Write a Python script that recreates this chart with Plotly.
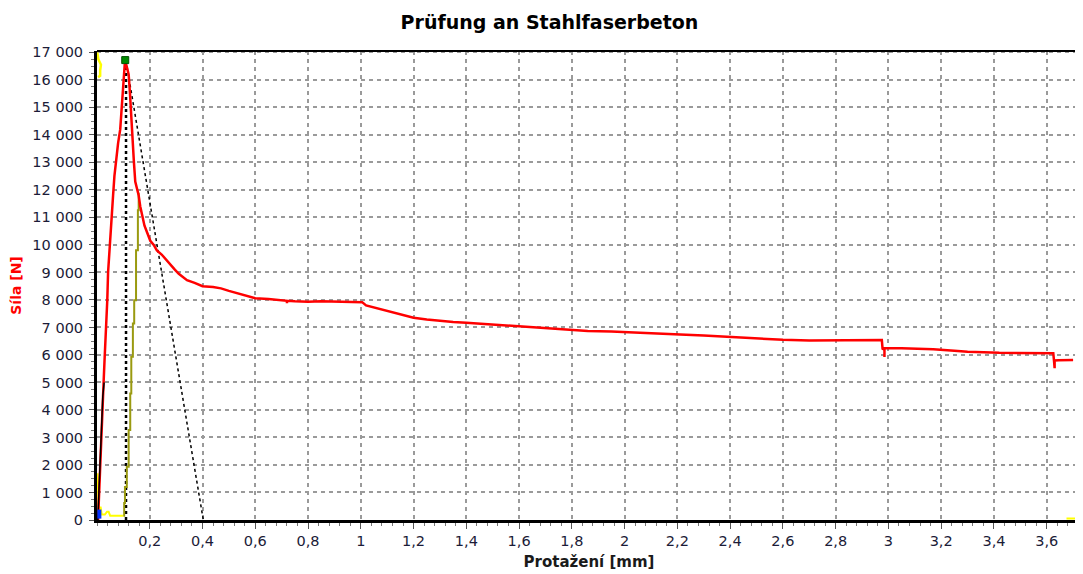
import plotly.graph_objects as go

# ---------------- data ----------------
# main force-elongation curve (red)
red_x = [0.004, 0.008, 0.012, 0.016, 0.021, 0.025, 0.029, 0.035, 0.039, 0.042, 0.048,
         0.054, 0.061, 0.066, 0.073, 0.080, 0.088, 0.094, 0.101, 0.105, 0.111, 0.116,
         0.120, 0.125, 0.130, 0.135, 0.140, 0.145, 0.152, 0.158, 0.164, 0.172, 0.180,
         0.190, 0.202, 0.215, 0.227, 0.245, 0.262, 0.278, 0.295, 0.310, 0.325, 0.341,
         0.370, 0.400, 0.440, 0.470, 0.500, 0.530, 0.560, 0.600, 0.650, 0.700, 0.720,
         0.720, 0.720, 0.750, 0.800, 0.850, 0.900, 0.950, 1.005, 1.020, 1.060, 1.120,
         1.160, 1.200, 1.250, 1.300, 1.350, 1.400, 1.450, 1.500, 1.550, 1.600, 1.650,
         1.700, 1.750, 1.800, 1.860, 1.950, 2.050, 2.160, 2.210, 2.300, 2.400, 2.500,
         2.600, 2.700, 2.800, 2.900, 2.975, 2.978, 2.985, 2.985, 2.985, 3.050, 3.170,
         3.250, 3.300, 3.420, 3.500, 3.625, 3.628, 3.630, 3.630, 3.645, 3.700]
red_y = [0, 1000, 2000, 3400, 4500, 5000, 5900, 7000, 8000, 9000, 10000,
         11000, 11800, 12500, 13200, 13700, 14200, 15000, 16000, 16550, 16550, 16300,
         16200, 15500, 14500, 14000, 13000, 12300, 12000, 11800, 11400, 11000, 10700,
         10450, 10150, 10000, 9800, 9650, 9450, 9300, 9100, 8950, 8850, 8720,
         8620, 8500, 8470, 8420, 8330, 8250, 8150, 8060, 8030, 7990, 7970,
         7880, 7970, 7950, 7930, 7950, 7940, 7930, 7920, 7800, 7700, 7530,
         7430, 7350, 7290, 7240, 7200, 7170, 7140, 7100, 7080, 7050, 7010,
         6970, 6940, 6920, 6870, 6850, 6820, 6780, 6745, 6710, 6660, 6600,
         6550, 6530, 6540, 6540, 6540, 6200, 6250, 5930, 6250, 6240, 6210,
         6150, 6120, 6080, 6070, 6060, 5760, 5520, 5800, 5810, 5820]

# black initial loading line
black_x = [0.003, 0.010, 0.016, 0.022, 0.027]
black_y = [0, 1900, 3400, 4500, 5000]

# yellow trace near the origin
yellow_low_x = [0.002, 0.003, 0.006, 0.010, 0.014, 0.018, 0.024, 0.030, 0.038, 0.044,
                0.050, 0.070, 0.090, 0.100]
yellow_low_y = [1700, 900, 500, 450, 450, 200, 200, 200, 300, 300, 150, 150, 150, 150]

# yellow trace near the top-left corner
yellow_top_x = [0.001, 0.005, 0.015, 0.012, 0.012, 0.004]
yellow_top_y = [17000, 16750, 16550, 16350, 16150, 16100]

# yellow trace at the end of the test
yellow_end_x = [3.675, 3.720, 3.720, 3.730]
yellow_end_y = [50, 50, 200, 200]

# olive unloading/reloading line
olive_x = [0.100, 0.103, 0.106, 0.113, 0.120, 0.126, 0.130, 0.136, 0.141, 0.148, 0.155, 0.158]
olive_y = [150, 617, 1200, 1936, 3269, 4602, 5932, 7145, 7993, 9807, 11260, 11900]

# blue start marker
blue_x = [0.009, 0.009]
blue_y = [50, 380]

# peak marker (green)
peak_x = [0.107]
peak_y = [16720]

# dotted construction lines
vert_x = [0.110, 0.110]
vert_y = [0, 16700]
diag_x = [0.110, 0.403]
diag_y = [16700, 0]

# axis ticks
x_tick_vals = [0.2, 0.4, 0.6, 0.8, 1.0, 1.2, 1.4, 1.6, 1.8, 2.0, 2.2, 2.4, 2.6, 2.8,
               3.0, 3.2, 3.4, 3.6]
x_tick_text = ["0,2", "0,4", "0,6", "0,8", "1", "1,2", "1,4", "1,6", "1,8", "2", "2,2",
               "2,4", "2,6", "2,8", "3", "3,2", "3,4", "3,6"]
y_tick_vals = [0, 1000, 2000, 3000, 4000, 5000, 6000, 7000, 8000, 9000, 10000, 11000,
               12000, 13000, 14000, 15000, 16000, 17000]
y_tick_text = ["0", "1 000", "2 000", "3 000", "4 000", "5 000", "6 000", "7 000",
               "8 000", "9 000", "10 000", "11 000", "12 000", "13 000", "14 000",
               "15 000", "16 000", "17 000"]

FONT = "DejaVu Sans"
TICK_COLOR = "#1c1c38"

fig = go.Figure()

fig.add_trace(go.Scatter(x=vert_x, y=vert_y, mode="lines",
                         line=dict(color="black", width=2.5, dash="3px,3px")))
fig.add_trace(go.Scatter(x=diag_x, y=diag_y, mode="lines",
                         line=dict(color="black", width=1.5, dash="3px,3px")))
fig.add_trace(go.Scatter(x=yellow_low_x, y=yellow_low_y, mode="lines",
                         line=dict(color="#ffff00", width=2)))
fig.add_trace(go.Scatter(x=yellow_top_x, y=yellow_top_y, mode="lines",
                         line=dict(color="#ffff00", width=2.5)))
fig.add_trace(go.Scatter(x=yellow_end_x, y=yellow_end_y, mode="lines",
                         line=dict(color="#ffff00", width=2)))
fig.add_trace(go.Scatter(x=olive_x, y=olive_y, mode="lines", line_shape="hv",
                         line=dict(color="#9a9a10", width=2)))
fig.add_trace(go.Scatter(x=red_x, y=red_y, mode="lines",
                         line=dict(color="#ff0000", width=2.5)))
fig.add_trace(go.Scatter(x=black_x, y=black_y, mode="lines",
                         line=dict(color="black", width=1.5)))
fig.add_trace(go.Scatter(x=blue_x, y=blue_y, mode="lines",
                         line=dict(color="#0030ff", width=4)))
fig.add_trace(go.Scatter(x=peak_x, y=peak_y, mode="markers",
                         marker=dict(symbol="square", size=7, color="#008a00",
                                     line=dict(color="#005500", width=1))))

# the page body adds an 8 px offset, so the figure is sized to fit the window
fig.update_layout(
    width=1075, height=566,
    margin=dict(l=89, r=2, t=43, b=54),
    paper_bgcolor="white", plot_bgcolor="white",
    showlegend=False,
    separators=", ",
    font=dict(family=FONT, size=14, color=TICK_COLOR),
    title=dict(text="Prüfung an Stahlfaserbeton", x=0.5037, xanchor="center",
               y=0.975, yanchor="middle",
               font=dict(family=FONT, size=19, color="black", weight="bold")),
    shapes=[dict(type="line", xref="paper", yref="paper", x0=0, x1=1, y0=1, y1=1,
                 line=dict(color="black", width=2))],
)

fig.update_xaxes(
    range=[0, 3.73], tickmode="array", tickvals=x_tick_vals, ticktext=x_tick_text,
    automargin=False,
    showline=True, linecolor="black", linewidth=3,
    ticks="outside", ticklen=6, tickcolor="#555555", tickwidth=1,
    tickfont=dict(family=FONT, size=14.5, color=TICK_COLOR),
    showgrid=True, gridcolor="#9a9a9a", gridwidth=1.5, griddash="4px,4px",
    zeroline=False,
    minor=dict(tickmode="linear", tick0=0, dtick=0.04, ticks="outside", ticklen=3,
               tickcolor="#777777", showgrid=False),
    title=dict(text="Protažení [mm]", standoff=9,
               font=dict(family=FONT, size=15, color="#1a1a1a", weight="bold")),
)

fig.update_yaxes(
    range=[0, 17050], tickmode="array", tickvals=y_tick_vals, ticktext=y_tick_text,
    automargin=False,
    showline=True, linecolor="black", linewidth=3,
    ticks="outside", ticklen=5, tickcolor="#555555", tickwidth=1,
    ticklabelstandoff=3,
    tickfont=dict(family=FONT, size=14.5, color=TICK_COLOR),
    showgrid=True, gridcolor="#9a9a9a", gridwidth=1.5, griddash="4px,4px",
    zeroline=False,
    minor=dict(tickmode="linear", tick0=0, dtick=250, ticks="outside", ticklen=3,
               tickcolor="#777777", showgrid=False),
    title=dict(text="Síla [N]", standoff=8,
               font=dict(family=FONT, size=14, color="#ff0000", weight="bold")),
)

fig.write_html("out.html")
